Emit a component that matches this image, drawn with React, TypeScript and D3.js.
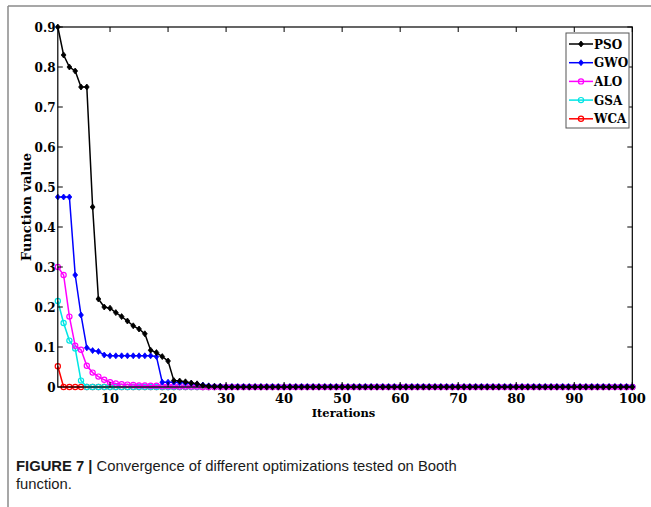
import React from "react";
import * as d3 from "d3";

const PSO = [
  0.9, 0.83, 0.8, 0.79, 0.75, 0.75, 0.45, 0.22, 0.2, 0.197,
  0.186, 0.176, 0.165, 0.153, 0.145, 0.133, 0.092, 0.086, 0.076, 0.065,
  0.016, 0.015, 0.013, 0.01, 0.008, 0.004, 0.002, 0.001, 0.001, 0,
  0, 0, 0, 0, 0, 0, 0, 0, 0, 0,
  0, 0, 0, 0, 0, 0, 0, 0, 0, 0,
  0, 0, 0, 0, 0, 0, 0, 0, 0, 0,
  0, 0, 0, 0, 0, 0, 0, 0, 0, 0,
  0, 0, 0, 0, 0, 0, 0, 0, 0, 0,
  0, 0, 0, 0, 0, 0, 0, 0, 0, 0,
  0, 0, 0, 0, 0, 0, 0, 0, 0, 0,
];
const GWO = [
  0.475, 0.475, 0.475, 0.28, 0.18, 0.098, 0.091, 0.089, 0.08, 0.078,
  0.078, 0.078, 0.078, 0.078, 0.078, 0.078, 0.078, 0.076, 0.012, 0.012,
  0.012, 0.011, 0.01, 0.009, 0.007, 0.005, 0.003, 0.002, 0.002, 0.001,
  0.001, 0.001, 0.001, 0.001, 0.001, 0.001, 0.001, 0.001, 0.001, 0.001,
  0.001, 0.001, 0.001, 0.001, 0.001, 0.001, 0.001, 0.001, 0.001, 0.001,
  0.001, 0.001, 0.001, 0.001, 0.001, 0.001, 0.001, 0.001, 0.001, 0.001,
  0.001, 0.001, 0.001, 0.001, 0.001, 0.001, 0.001, 0.001, 0.001, 0.001,
  0.001, 0.001, 0.001, 0.001, 0.001, 0.001, 0.001, 0.001, 0.001, 0.001,
  0.001, 0.001, 0.001, 0.001, 0.001, 0.001, 0.001, 0.001, 0.001, 0.001,
  0.001, 0.001, 0.001, 0.001, 0.001, 0.001, 0.001, 0.001, 0.001, 0.001,
];
const ALO = [
  0.3, 0.28, 0.176, 0.103, 0.093, 0.053, 0.036, 0.026, 0.018, 0.012,
  0.009, 0.007, 0.006, 0.005, 0.004, 0.004, 0.003, 0.003, 0.002, 0.002,
  0.002, 0.001, 0.001, 0.001, 0.001, 0, 0, 0, 0, 0,
  0, 0, 0, 0, 0, 0, 0, 0, 0, 0,
  0, 0, 0, 0, 0, 0, 0, 0, 0, 0,
  0, 0, 0, 0, 0, 0, 0, 0, 0, 0,
  0, 0, 0, 0, 0, 0, 0, 0, 0, 0,
  0, 0, 0, 0, 0, 0, 0, 0, 0, 0,
  0, 0, 0, 0, 0, 0, 0, 0, 0, 0,
  0, 0, 0, 0, 0, 0, 0, 0, 0, 0,
];
const GSA = [
  0.215, 0.16, 0.116, 0.096, 0.016, 0, 0, 0, 0, 0,
  0, 0, 0, 0, 0, 0, 0, 0, 0, 0,
  0, 0, 0, 0, 0, 0, 0, 0, 0, 0,
  0, 0, 0, 0, 0, 0, 0, 0, 0, 0,
  0, 0, 0, 0, 0, 0, 0, 0, 0, 0,
  0, 0, 0, 0, 0, 0, 0, 0, 0, 0,
  0, 0, 0, 0, 0, 0, 0, 0, 0, 0,
  0, 0, 0, 0, 0, 0, 0, 0, 0, 0,
  0, 0, 0, 0, 0, 0, 0, 0, 0, 0,
  0, 0, 0, 0, 0, 0, 0, 0, 0, 0,
];
const WCA = [
  0.052, 0, 0, 0, 0, 0, 0, 0, 0, 0,
  0, 0, 0, 0, 0, 0, 0, 0, 0, 0,
  0, 0, 0, 0, 0, 0, 0, 0, 0, 0,
  0, 0, 0, 0, 0, 0, 0, 0, 0, 0,
  0, 0, 0, 0, 0, 0, 0, 0, 0, 0,
  0, 0, 0, 0, 0, 0, 0, 0, 0, 0,
  0, 0, 0, 0, 0, 0, 0, 0, 0, 0,
  0, 0, 0, 0, 0, 0, 0, 0, 0, 0,
  0, 0, 0, 0, 0, 0, 0, 0, 0, 0,
  0, 0, 0, 0, 0, 0, 0, 0, 0, 0,
];

const SERIES_NAMES = ["PSO", "GWO", "ALO", "GSA", "WCA"];
const X_TICKS = [10, 20, 30, 40, 50, 60, 70, 80, 90, 100];
const Y_TICKS = [0, 0.1, 0.2, 0.3, 0.4, 0.5, 0.6, 0.7, 0.8, 0.9];
const Y_TICK_LABELS = ["0", "0.1", "0.2", "0.3", "0.4", "0.5", "0.6", "0.7", "0.8", "0.9"];

const STYLE: Record<string, { color: string; marker: "diamond" | "circle" }> = {
  PSO: { color: "#000000", marker: "diamond" },
  GWO: { color: "#0000ff", marker: "diamond" },
  ALO: { color: "#ff00ff", marker: "circle" },
  GSA: { color: "#00e5e5", marker: "circle" },
  WCA: { color: "#ff0000", marker: "circle" },
};

const serif = "'DejaVu Serif', serif";

function Marker({ x, y, color, kind }: { x: number; y: number; color: string; kind: string }) {
  if (kind === "diamond") {
    const s = 3;
    return (
      <path
        d={`M${x},${y - s}L${x + s * 0.8},${y}L${x},${y + s}L${x - s * 0.8},${y}Z`}
        fill={color}
        stroke={color}
        strokeWidth={0.8}
      />
    );
  }
  return <circle cx={x} cy={y} r={2.6} fill="none" stroke={color} strokeWidth={1.2} />;
}

export default function App() {
  const left = 57.8;
  const right = 632.3;
  const top = 27;
  const bottom = 387;

  const x = d3.scaleLinear().domain([1, 100]).range([left, right]);
  const y = d3.scaleLinear().domain([0, 0.9]).range([bottom, top]);

  const dataMap: Record<string, number[]> = { PSO, GWO, ALO, GSA, WCA };
  const line = d3
    .line<number>()
    .x((_, i) => x(i + 1))
    .y((v) => y(v));

  const drawOrder = ["WCA", "GSA", "ALO", "GWO", "PSO"];
  const tl = 5;

  const legendX = 566;
  const legendY = 33;
  const legendW = 63;
  const legendH = 95;

  return (
    <svg
      width={651}
      height={507}
      style={{ position: "absolute", left: 0, top: 0, background: "#fff" }}
    >
      <rect x={0} y={0} width={651} height={507} fill="#fff" />
      {/* outer frame */}
      <line x1={8} y1={6} x2={651} y2={6} stroke="#8a8a8a" strokeWidth={1.5} />
      <line x1={8} y1={6} x2={8} y2={507} stroke="#8a8a8a" strokeWidth={1.5} />

      {/* series */}
      {drawOrder.map((name) => {
        const st = STYLE[name];
        const vals = dataMap[name];
        return (
          <g key={name}>
            <path d={line(vals) || ""} fill="none" stroke={st.color} strokeWidth={1.5} />
            {vals.map((v, i) => (
              <Marker key={i} x={x(i + 1)} y={y(v)} color={st.color} kind={st.marker} />
            ))}
          </g>
        );
      })}

      {/* axes box */}
      <rect x={left} y={top} width={right - left} height={bottom - top} fill="none" stroke="#000" strokeWidth={1.2} />
      {X_TICKS.map((t) => (
        <g key={"xt" + t}>
          <line x1={x(t)} x2={x(t)} y1={bottom} y2={bottom - tl} stroke="#000" />
          <line x1={x(t)} x2={x(t)} y1={top} y2={top + tl} stroke="#000" />
          <text
            x={x(t)}
            y={402.5}
            textAnchor="middle"
            fontFamily={serif}
            fontWeight="bold"
            fontSize={13}
          >
            {t}
          </text>
        </g>
      ))}
      {Y_TICKS.map((t, i) => (
        <g key={"yt" + t}>
          <line x1={left} x2={left + tl} y1={y(t)} y2={y(t)} stroke="#000" />
          <line x1={right} x2={right - tl} y1={y(t)} y2={y(t)} stroke="#000" />
          <text
            x={55.5}
            y={y(t) + 4.5}
            textAnchor="end"
            fontFamily={serif}
            fontWeight="bold"
            fontSize={12}
          >
            {Y_TICK_LABELS[i]}
          </text>
        </g>
      ))}

      <text x={343.5} y={416.5} textAnchor="middle" fontFamily={serif} fontWeight="bold" fontSize={11.5}>
        Iterations
      </text>
      <text
        transform={`translate(30.5,207) rotate(-90)`}
        textAnchor="middle"
        fontFamily={serif}
        fontWeight="bold"
        fontSize={13}
      >
        Function value
      </text>

      {/* legend */}
      <rect x={legendX} y={legendY} width={legendW} height={legendH} fill="#fff" stroke="#555" strokeWidth={1} />
      {SERIES_NAMES.map((name, i) => {
        const st = STYLE[name];
        const ly = 44 + i * 18.7;
        return (
          <g key={"lg" + name}>
            <line x1={569} x2={593} y1={ly} y2={ly} stroke={st.color} strokeWidth={1.5} />
            <Marker x={581} y={ly} color={st.color} kind={st.marker} />
            <text x={594} y={ly + 4.5} fontFamily={serif} fontWeight="bold" fontSize={12}>
              {name}
            </text>
          </g>
        );
      })}

      {/* caption */}
      <text x={16} y={470.5} fontFamily="'Liberation Sans', Arial, sans-serif" fontSize={14.8} fill="#1a1a1a">
        <tspan fontWeight="bold">FIGURE 7 | </tspan>
        <tspan>Convergence of different optimizations tested on Booth</tspan>
      </text>
      <text x={16} y={488.5} fontFamily="'Liberation Sans', Arial, sans-serif" fontSize={14.8} fill="#1a1a1a">
        function.
      </text>
    </svg>
  );
}
